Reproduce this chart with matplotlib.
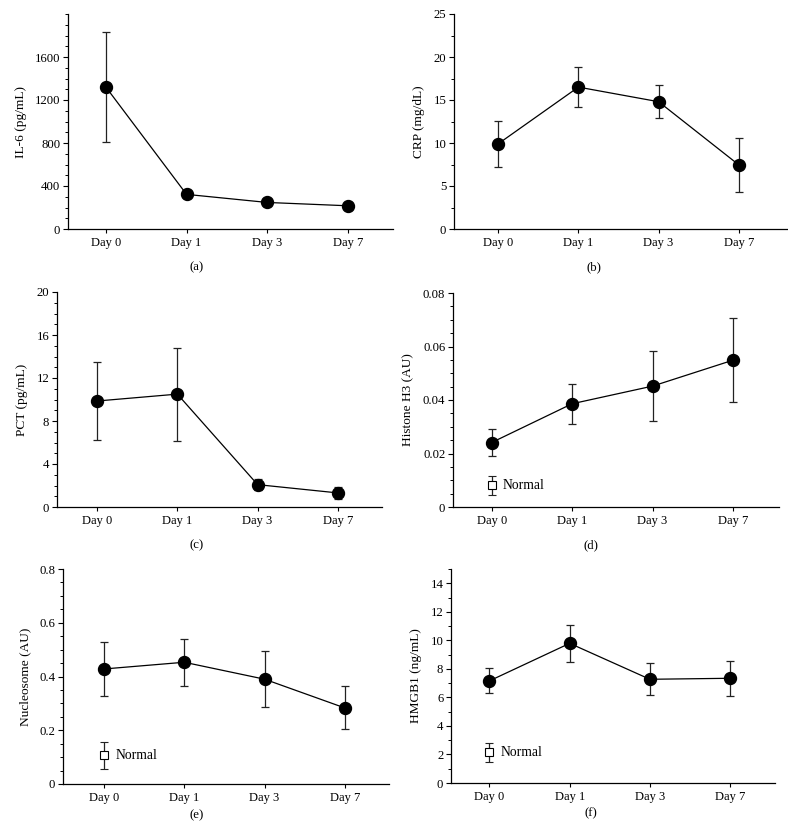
import matplotlib
matplotlib.use('Agg')
import matplotlib.pyplot as plt
from matplotlib.ticker import MultipleLocator, FuncFormatter

plt.rcParams['font.family'] = ['Liberation Serif', 'DejaVu Serif']

days = ['Day 0', 'Day 1', 'Day 3', 'Day 7']

# 各指标的均值与误差
il6_mean = [1320, 322, 247, 216]
il6_err = [510, 20, 15, 15]

crp_mean = [9.9, 16.5, 14.8, 7.45]
crp_err = [2.7, 2.3, 1.95, 3.1]

pct_mean = [9.86, 10.5, 2.08, 1.31]
pct_err = [3.67, 4.33, 0.54, 0.55]

h3_mean = [0.0241, 0.0386, 0.0452, 0.0549]
h3_err = [0.005, 0.0075, 0.013, 0.0158]
h3_normal = (0.0081, 0.0036)

nuc_mean = [0.428, 0.453, 0.390, 0.283]
nuc_err = [0.100, 0.088, 0.105, 0.080]
nuc_normal = (0.107, 0.05)

hmgb1_mean = [7.16, 9.79, 7.27, 7.34]
hmgb1_err = [0.87, 1.28, 1.13, 1.24]
hmgb1_normal = (2.14, 0.68)

W, H = 788, 836
fig = plt.figure(figsize=(W / 100, H / 100), dpi=100)


def add_ax(l, t, r, b):
    return fig.add_axes([l / W, 1 - b / H, (r - l) / W, (b - t) / H])


def fmt(v, pos):
    return '%g' % round(v, 6)


def panel(ax, mean, err, ylabel, ylim, major, minor, normal=None, xlim=(-0.5, 3.57)):
    x = list(range(len(days)))
    ax.errorbar(x, mean, yerr=err, fmt='-o', color='black', ecolor='#222222',
                elinewidth=0.9, capsize=2.6, capthick=0.9, lw=0.9,
                markersize=8.6, zorder=3)
    if normal is not None:
        ax.errorbar([0], [normal[0]], yerr=[normal[1]], fmt='s', mfc='white',
                    mec='black', mew=0.8, color='black', ecolor='#222222',
                    elinewidth=0.9, capsize=2.6, capthick=0.9, markersize=6.2)
        ax.text(0.14, normal[0], 'Normal', va='center', ha='left', fontsize=9.8)
    ax.set_xlim(*xlim)
    ax.set_ylim(*ylim)
    ax.set_xticks(x)
    ax.set_xticklabels(days, fontsize=9)
    ax.yaxis.set_major_locator(MultipleLocator(major))
    ax.yaxis.set_minor_locator(MultipleLocator(minor))
    ax.yaxis.set_major_formatter(FuncFormatter(fmt))
    ax.tick_params(axis='y', labelsize=9.2, length=3.5, width=0.8, pad=2)
    ax.tick_params(axis='y', which='minor', length=2, width=0.7)
    ax.tick_params(axis='x', length=3, width=0.8, pad=2.5)
    for s in ['top', 'right']:
        ax.spines[s].set_visible(False)
    for s in ['left', 'bottom']:
        ax.spines[s].set_linewidth(0.9)
    ax.set_ylabel(ylabel, fontsize=9.6, labelpad=6)


ax_a = add_ax(68, 14, 393, 229)
panel(ax_a, il6_mean, il6_err, 'IL-6 (pg/mL)', (0, 2000), 400, 100, xlim=(-0.47, 3.56))
ax_a.set_yticks([0, 400, 800, 1200, 1600])

ax_b = add_ax(454, 14, 787, 229)
panel(ax_b, crp_mean, crp_err, 'CRP (mg/dL)', (0, 25), 5, 2.5, xlim=(-0.55, 3.6))

ax_c = add_ax(57, 292, 382, 507)
panel(ax_c, pct_mean, pct_err, 'PCT (pg/mL)', (0, 20), 4, 1, xlim=(-0.5, 3.55))

ax_d = add_ax(453, 293, 779, 507)
panel(ax_d, h3_mean, h3_err, 'Histone H3 (AU)', (0, 0.08), 0.02, 0.005, normal=h3_normal,
      xlim=(-0.48, 3.57))

ax_e = add_ax(63, 569, 389, 784)
panel(ax_e, nuc_mean, nuc_err, 'Nucleosome (AU)', (0, 0.8), 0.2, 0.05, normal=nuc_normal,
      xlim=(-0.51, 3.55))

ax_f = add_ax(451, 569, 775, 783)
panel(ax_f, hmgb1_mean, hmgb1_err, 'HMGB1 (ng/mL)', (0, 15), 2, 1, normal=hmgb1_normal,
      xlim=(-0.48, 3.56))

for lbl, px, py in [('(a)', 197, 267), ('(b)', 594, 267), ('(c)', 197, 545),
                    ('(d)', 591, 545), ('(e)', 197, 815), ('(f)', 591, 813)]:
    fig.text(px / W, 1 - py / H, lbl, ha='center', va='center', fontsize=9.2)

fig.savefig('out.png', dpi=100, facecolor='white')
